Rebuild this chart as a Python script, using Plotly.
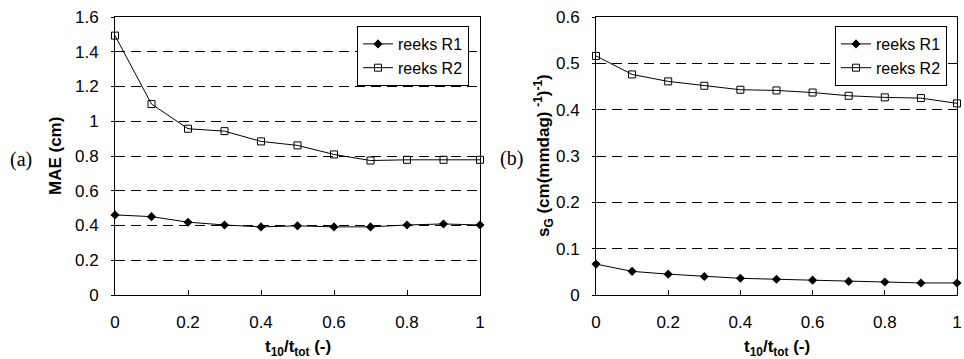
import plotly.graph_objects as go

x_vals = [0, 0.1, 0.2, 0.3, 0.4, 0.5, 0.6, 0.7, 0.8, 0.9, 1.0]

mae_r1 = [0.461, 0.451, 0.419, 0.403, 0.392, 0.398, 0.392, 0.392, 0.403, 0.409, 0.403]
mae_r2 = [1.493, 1.099, 0.957, 0.943, 0.884, 0.861, 0.809, 0.774, 0.778, 0.778, 0.778]

sg_r1 = [0.0667, 0.051, 0.045, 0.040, 0.036, 0.034, 0.032, 0.0294, 0.028, 0.026, 0.026]
sg_r2 = [0.516, 0.476, 0.461, 0.4516, 0.443, 0.4415, 0.437, 0.430, 0.4265, 0.425, 0.4136]

series_names = ["reeks R1", "reeks R2"]
x_ticks = [0, 0.2, 0.4, 0.6, 0.8, 1]
x_tick_text = ["0", "0.2", "0.4", "0.6", "0.8", "1"]
mae_ticks = [0, 0.2, 0.4, 0.6, 0.8, 1.0, 1.2, 1.4, 1.6]
mae_tick_text = ["0", "0.2", "0.4", "0.6", "0.8", "1", "1.2", "1.4", "1.6"]
sg_ticks = [0, 0.1, 0.2, 0.3, 0.4, 0.5, 0.6]
sg_tick_text = ["0", "0.1", "0.2", "0.3", "0.4", "0.5", "0.6"]

x_title = "<b>t<sub>10</sub>/t<sub>tot</sub> (-)</b>"
mae_title = "<b>MAE (cm)</b>"
sg_title = "<b>s<sub>G</sub> (cm(mmdag) <sup>-1</sup>)<sup>-1</sup>)</b>"

W, H = 964, 359
FONT = "Liberation Sans, Arial, sans-serif"
SERIF = "Liberation Serif, Times New Roman, serif"

fig = go.Figure()

r1_style = dict(mode="lines+markers", line=dict(color="black", width=1),
                marker=dict(symbol="diamond", size=7, color="black"))
r2_style = dict(mode="lines+markers", line=dict(color="black", width=1),
                marker=dict(symbol="square-open", size=7, color="black",
                            line=dict(width=1)))

fig.add_trace(go.Scatter(x=x_vals, y=mae_r1, name=series_names[0], xaxis="x", yaxis="y",
                         legend="legend", cliponaxis=False, **r1_style))
fig.add_trace(go.Scatter(x=x_vals, y=mae_r2, name=series_names[1], xaxis="x", yaxis="y",
                         legend="legend", cliponaxis=False, **r2_style))
fig.add_trace(go.Scatter(x=x_vals, y=sg_r1, name=series_names[0], xaxis="x2", yaxis="y2",
                         legend="legend2", cliponaxis=False, **r1_style))
fig.add_trace(go.Scatter(x=x_vals, y=sg_r2, name=series_names[1], xaxis="x2", yaxis="y2",
                         legend="legend2", cliponaxis=False, **r2_style))

ydom = [1 - 295 / H, 1 - 17 / H]

def xaxis(dom, anchor):
    return dict(domain=dom, anchor=anchor, range=[0, 1], tickvals=x_ticks, ticktext=x_tick_text,
                showgrid=False, zeroline=False, showline=True, linecolor="black", linewidth=1,
                mirror=True, ticks="inside", ticklen=5, tickcolor="black",
                tickfont=dict(family=FONT, size=17, color="black"),
                ticklabelstandoff=12, ticklabeloverflow="allow", automargin=False)

def yaxis(anchor, rng, vals, text):
    return dict(domain=ydom, anchor=anchor, range=rng, tickvals=vals, ticktext=text,
                showgrid=True, gridcolor="black", griddash="10px,6px", gridwidth=1,
                zeroline=False, showline=True, linecolor="black", linewidth=1, mirror=True,
                ticks="outside", ticklen=3, tickcolor="black",
                tickfont=dict(family=FONT, size=17, color="black"),
                ticklabelstandoff=9, ticklabeloverflow="allow", automargin=False)

def note(text, x, y, font, size, angle=0):
    return dict(text=text, x=x / W, y=1 - y / H, xref="paper", yref="paper",
                xanchor="center", yanchor="middle", showarrow=False, textangle=angle,
                font=dict(family=font, size=size, color="black"))

legend_style = dict(xanchor="right", yanchor="top", bordercolor="black", borderwidth=1,
                    bgcolor="white", font=dict(family=FONT, size=16, color="black"),
                    tracegroupgap=0)

fig.update_layout(
    width=W, height=H,
    margin=dict(l=0, r=0, t=0, b=0),
    paper_bgcolor="white", plot_bgcolor="white",
    xaxis=xaxis([115 / W, 480 / W], "y"),
    xaxis2=xaxis([596 / W, 957 / W], "y2"),
    yaxis=yaxis("x", [0, 1.6], mae_ticks, mae_tick_text),
    yaxis2=yaxis("x2", [0, 0.6], sg_ticks, sg_tick_text),
    legend=dict(x=469 / W, y=1 - 26 / H, **legend_style),
    legend2=dict(x=947 / W, y=1 - 26 / H, **legend_style),
    showlegend=True,
    annotations=[
        note("(a)", 21, 160, SERIF, 20),
        note("(b)", 511, 158, SERIF, 20),
        note(mae_title, 55, 156, FONT, 17, -90),
        note(sg_title, 543, 156, FONT, 17, -90),
        note(x_title, 298, 348, FONT, 17),
        note(x_title, 777, 348, FONT, 17),
    ],
)

fig.write_html("out.html", config={"displayModeBar": False},
               post_script="document.body.style.margin='0';document.body.style.overflow='hidden';")
